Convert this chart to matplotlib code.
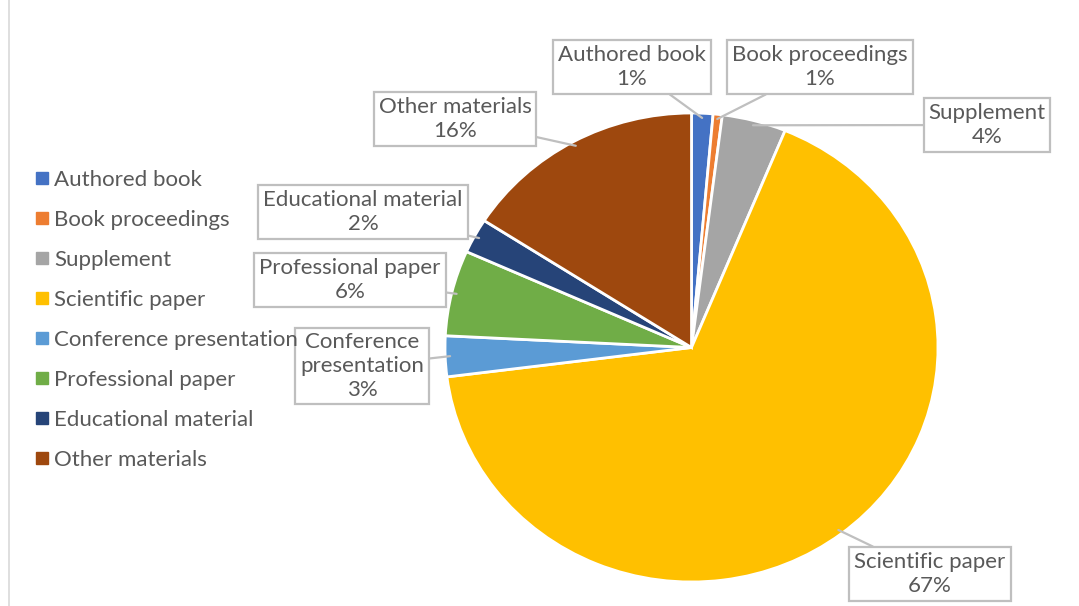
import numpy as np
import matplotlib.pyplot as plt
from matplotlib.lines import Line2D

# ---------------------------------------------------------------------------
# Data
# ---------------------------------------------------------------------------
CATEGORIES = ["Authored book", "Book proceedings", "Supplement", "Scientific paper",
              "Conference presentation", "Professional paper", "Educational material",
              "Other materials"]
SHARES = [1.4, 0.6, 4.2, 66.8, 2.8, 5.9, 2.4, 15.9]
COLORS = ["#4472C4", "#ED7D31", "#A5A5A5", "#FFC000",
          "#5B9BD5", "#70AD47", "#264478", "#9E480E"]
# callout label text (line-wrapped like the original)
CALLOUT_TEXT = ["Authored book", "Book proceedings", "Supplement", "Scientific paper",
                "Conference\npresentation", "Professional paper", "Educational material",
                "Other materials"]

TEXT_C = "#595959"
BOX_C = "#BFBFBF"
FONT = ["Lato", "DejaVu Sans"]
FS = 16

W, H = 1079, 606
fig = plt.figure(figsize=(W / 100, H / 100), dpi=100)
fig.patch.set_facecolor("white")

# pie axes, sized in pixels so the pie is slightly wider than tall
cx, cy, rx, ry = 691.5, 347.5, 246.5, 234.5
ax = fig.add_axes([(cx - rx) / W, (H - cy - ry) / H, 2 * rx / W, 2 * ry / H])
wedges, _ = ax.pie(SHARES, colors=COLORS, startangle=90, counterclock=False,
                   radius=1.0, wedgeprops=dict(edgecolor="white", linewidth=2.0))
ax.set_xlim(-1, 1)
ax.set_ylim(-1, 1)
ax.set_aspect("auto")
ax.axis("off")

# callout boxes (text centre in pixels from top-left)
box_pos = [(632, 67), (820, 67), (987, 125), (930, 574),
           (362, 366), (350, 280), (363, 212), (455, 119)]
total = sum(SHARES)
for w, txt, share, (tx, ty) in zip(wedges, CALLOUT_TEXT, SHARES, box_pos):
    mid = np.deg2rad((w.theta1 + w.theta2) / 2)
    px, py = 0.98 * np.cos(mid), 0.98 * np.sin(mid)
    ax.annotate(f"{txt}\n{share / total * 100:.0f}%",
                xy=(px, py), xycoords="data",
                xytext=(tx / W, 1 - ty / H), textcoords="figure fraction",
                ha="center", va="center", fontsize=FS, color=TEXT_C,
                family=FONT, linespacing=1.22,
                bbox=dict(boxstyle="square,pad=0.22", fc="white", ec=BOX_C, lw=1.6),
                arrowprops=dict(arrowstyle="-", color=BOX_C, lw=1.6,
                                shrinkA=0, shrinkB=0))

# legend on the left
handles = [Line2D([], [], marker="s", linestyle="none", markersize=8,
                  markerfacecolor=c, markeredgecolor=c) for c in COLORS]
leg = fig.legend(handles, CATEGORIES, loc="upper left",
                 bbox_to_anchor=(33 / W, 1 - 170 / H), frameon=False,
                 borderpad=0, borderaxespad=0,
                 handlelength=0.8, handletextpad=0.15, labelspacing=0.9,
                 prop=dict(family=FONT, size=FS))
for t in leg.get_texts():
    t.set_color(TEXT_C)

# thin frame line at the left edge
fig.add_artist(Line2D([9 / W, 9 / W], [0, 1], color="#D9D9D9", lw=1.2))

fig.savefig("out.png", dpi=100, facecolor="white")
